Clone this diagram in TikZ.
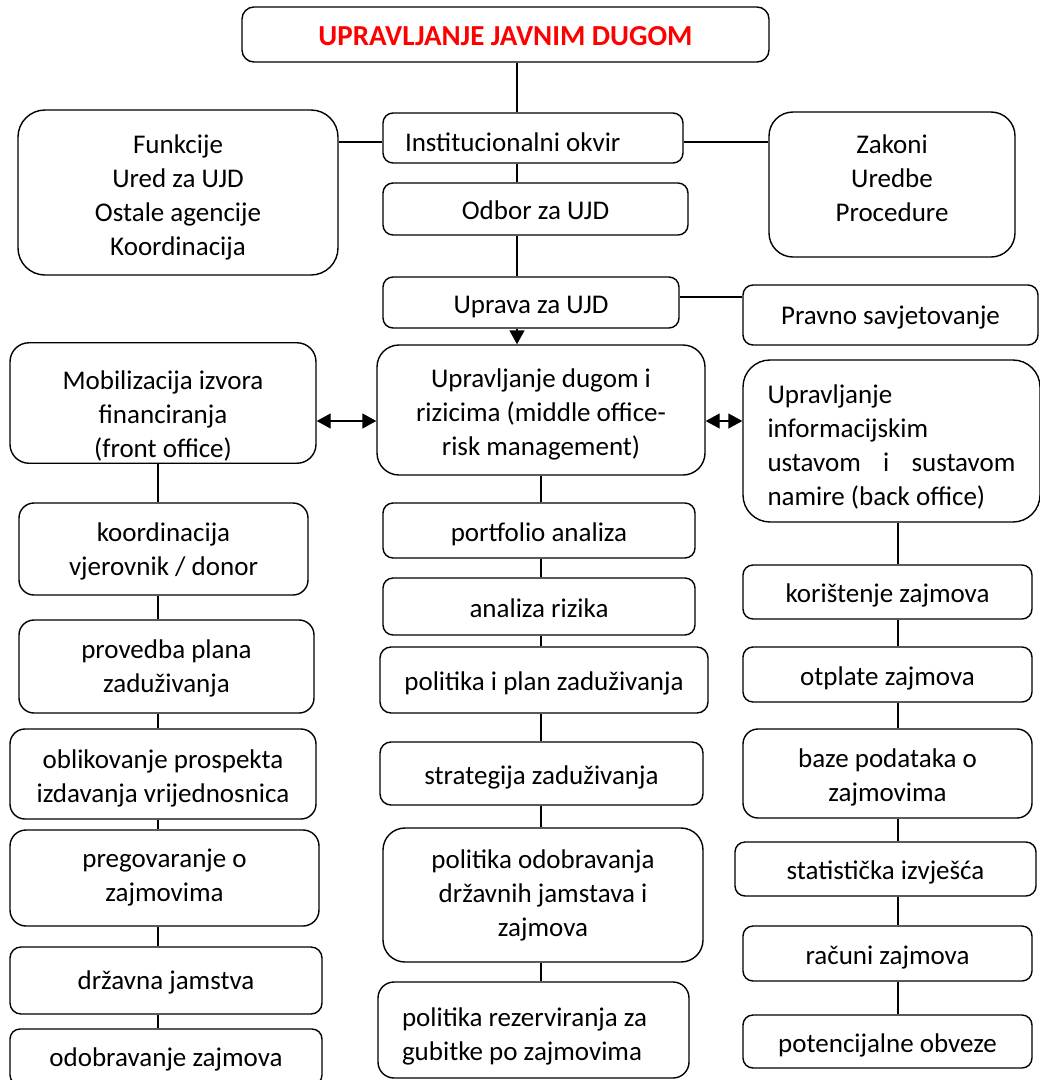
\documentclass[tikz,border=0pt]{standalone}
\usepackage{fontspec}
\setmainfont{Carlito}
\usepackage{xcolor}
\usepackage{tikz}
\usetikzlibrary{arrows.meta,positioning,calc}
\tikzset{
	>={Triangle[width=15pt,length=14pt]},
	blk/.style = {
			draw, rectangle,
			rounded corners = 10pt,
			line width      = 1.4pt,
			inner sep       = 0pt,
			align           = center,
			font            = \fontsize{27}{34}\selectfont,
		},
	single/.style = {text height=27pt, text depth=6pt},
	multi/.style = {text height=#1, text depth=5.5pt},
	lft/.style = {
			align = flush left,
			execute at begin node = {\rule{0pt}{33pt}},
			execute at end node   = {\rule[-6pt]{0pt}{0pt}},
		},
	link/.style = {line width=1.4pt},
}

\begin{document}
\begin{tikzpicture}[x=1pt, y=-1pt]
	\useasboundingbox (0,0) rectangle (1040,1080);

	\coordinate (spine) at (517,0);
	\coordinate (colL) at (158,0);
	\coordinate (colM) at (541,0);
	\coordinate (colR) at (898,0);
	\coordinate (rowI) at (0,142);
	\coordinate (rowU) at (0,297);
	\coordinate (rowD) at (0,421);

	% top of the chart
	\node[blk, single, rounded corners=12pt, minimum width=527pt, minimum height=55pt, font=\fontsize{29}{35}\selectfont\bfseries, text=red] at (505.5,34.5) (title) {UPRAVLJANJE JAVNIM DUGOM};

	\node[blk, lft, minimum height=50pt, text width=256pt, inner xsep=22pt] at (533,138) (inst) {Institucionalni okvir};
	\node[blk, multi=131pt, rounded corners=27pt, minimum width=320pt, minimum height=165pt] at (178,192.5) (funk) {Funkcije\\Ured za UJD\\Ostale agencije\\Koordinacija};
	\node[blk, rounded corners=24pt, minimum width=246pt, minimum height=145pt, text depth=12pt] at (892,184.5) (zak) {Zakoni\\Uredbe\\Procedure};
	\node[blk, single, minimum width=305pt, minimum height=52pt] at (535.5,209) (odbor) {Odbor za UJD};
	\node[blk, single, minimum width=296pt, minimum height=51pt] at (531,302.5) (uprava) {Uprava za UJD};
	\node[blk, minimum width=295pt, minimum height=60pt, text height=24pt, text depth=6pt] at (890.5,315) (pravno) {Pravno savjetovanje};

	\draw[link] (title.south -| spine) -- (inst.north -| spine);
	\draw[link] (inst.south -| spine) -- (odbor.north -| spine);
	\draw[link] (odbor.south -| spine) -- (uprava.north -| spine);
	\draw[link] (funk.east |- rowI) -- (inst.west |- rowI);
	\draw[link] (inst.east |- rowI) -- (zak.west |- rowI);
	\draw[link] (uprava.east |- rowU) -- (pravno.west |- rowU);

	% the three offices
	\node[blk, multi=115pt, rounded corners=19pt, minimum width=306pt, minimum height=116pt] at (163,403) (mob) {Mobilizacija izvora\\financiranja\\(front office)};
	\node[blk, multi=96pt, rounded corners=22pt, minimum width=328pt, minimum height=130pt] at (541,410) (dug) {Upravljanje dugom i\\rizicima (middle office-\\risk management)};
	\node[blk, lft, rounded corners=27pt, minimum height=162pt, text width=248pt, inner xsep=24.5pt] at (891.5,441) (back) {Upravljanje\\informacijskim\\ustavom\hfill i\hfill sustavom\\namire (back office)};

	\draw[link, ->] (uprava.south -| spine) -- (dug.north -| spine);
	\draw[link, <->] (mob.east |- rowD) -- (dug.west |- rowD);
	\draw[link, <->] (dug.east |- rowD) -- (back.west |- rowD);

	% front office
	\node[blk, multi=59pt, rounded corners=15pt, minimum width=289pt, minimum height=92pt] at (163.5,549) (koo) {koordinacija\\vjerovnik / donor};
	\node[blk, multi=57pt, rounded corners=15pt, minimum width=295pt, minimum height=93pt] at (166.5,666.5) (prov) {provedba plana\\zaduživanja};
	\node[blk, multi=62pt, rounded corners=15pt, minimum width=306pt, minimum height=90pt] at (163,774) (obl) {oblikovanje prospekta\\izdavanja vrijednosnica};
	\node[blk, rounded corners=16pt, minimum width=309pt, minimum height=96pt] at (164.5,878) (preg) {pregovaranje o\\zajmovima};
	\node[blk, minimum width=312pt, minimum height=67pt, rounded corners=11pt, text height=24pt, text depth=6pt] at (166,980.5) (drz) {državna jamstva};
	\node[blk, minimum width=312pt, minimum height=56pt, text height=24pt, text depth=6pt] at (166,1057) (odo) {odobravanje zajmova};

	\draw[link] (mob.south -| colL) -- (koo.north -| colL);
	\draw[link] (koo.south -| colL) -- (prov.north -| colL);
	\draw[link] (prov.south -| colL) -- (obl.north -| colL);
	\draw[link] (obl.south -| colL) -- (preg.north -| colL);
	\draw[link] (preg.south -| colL) -- (drz.north -| colL);
	\draw[link] (drz.south -| colL) -- (odo.north -| colL);

	% middle office
	\node[blk, single, minimum width=312pt, minimum height=55pt] at (539,530.5) (port) {portfolio analiza};
	\node[blk, single, minimum width=312pt, minimum height=57pt] at (539,606.5) (anr) {analiza rizika};
	\node[blk, single, rounded corners=11pt, minimum width=328pt, minimum height=66pt] at (544,680) (ppl) {politika i plan zaduživanja};
	\node[blk, single, rounded corners=11pt, minimum width=323pt, minimum height=63pt] at (541.5,773.5) (str) {strategija zaduživanja};
	\node[blk, rounded corners=22pt, minimum width=320pt, minimum height=134pt] at (543,895) (pod) {politika odobravanja\\državnih jamstava i\\zajmova};
	\node[blk, lft, rounded corners=16pt, minimum height=96pt, text width=263pt, inner xsep=24pt] at (533.5,1030) (rez) {politika rezerviranja za\\gubitke po zajmovima};

	\draw[link] (dug.south -| colM) -- (port.north -| colM);
	\draw[link] (port.south -| colM) -- (anr.north -| colM);
	\draw[link] (anr.south -| colM) -- (ppl.north -| colM);
	\draw[link] (ppl.south -| colM) -- (str.north -| colM);
	\draw[link] (str.south -| colM) -- (pod.north -| colM);
	\draw[link] (pod.south -| colM) -- (rez.north -| colM);

	% back office
	\node[blk, single, minimum width=289pt, minimum height=54pt] at (887.5,592) (kor) {korištenje zajmova};
	\node[blk, single, minimum width=289pt, minimum height=55pt] at (887.5,674.5) (otp) {otplate zajmova};
	\node[blk, multi=61pt, rounded corners=15pt, minimum width=289pt, minimum height=89pt] at (887.5,773.5) (baz) {baze podataka o\\zajmovima};
	\node[blk, single, minimum width=301pt, minimum height=54pt] at (885.5,869) (sta) {statistička izvješća};
	\node[blk, single, minimum width=289pt, minimum height=55pt] at (887.5,953.5) (rac) {računi zajmova};
	\node[blk, single, minimum width=289pt, minimum height=53pt] at (887.5,1041.5) (pot) {potencijalne obveze};

	\draw[link] (back.south -| colR) -- (kor.north -| colR);
	\draw[link] (kor.south -| colR) -- (otp.north -| colR);
	\draw[link] (otp.south -| colR) -- (baz.north -| colR);
	\draw[link] (baz.south -| colR) -- (sta.north -| colR);
	\draw[link] (sta.south -| colR) -- (rac.north -| colR);
	\draw[link] (rac.south -| colR) -- (pot.north -| colR);
\end{tikzpicture}
\end{document}
